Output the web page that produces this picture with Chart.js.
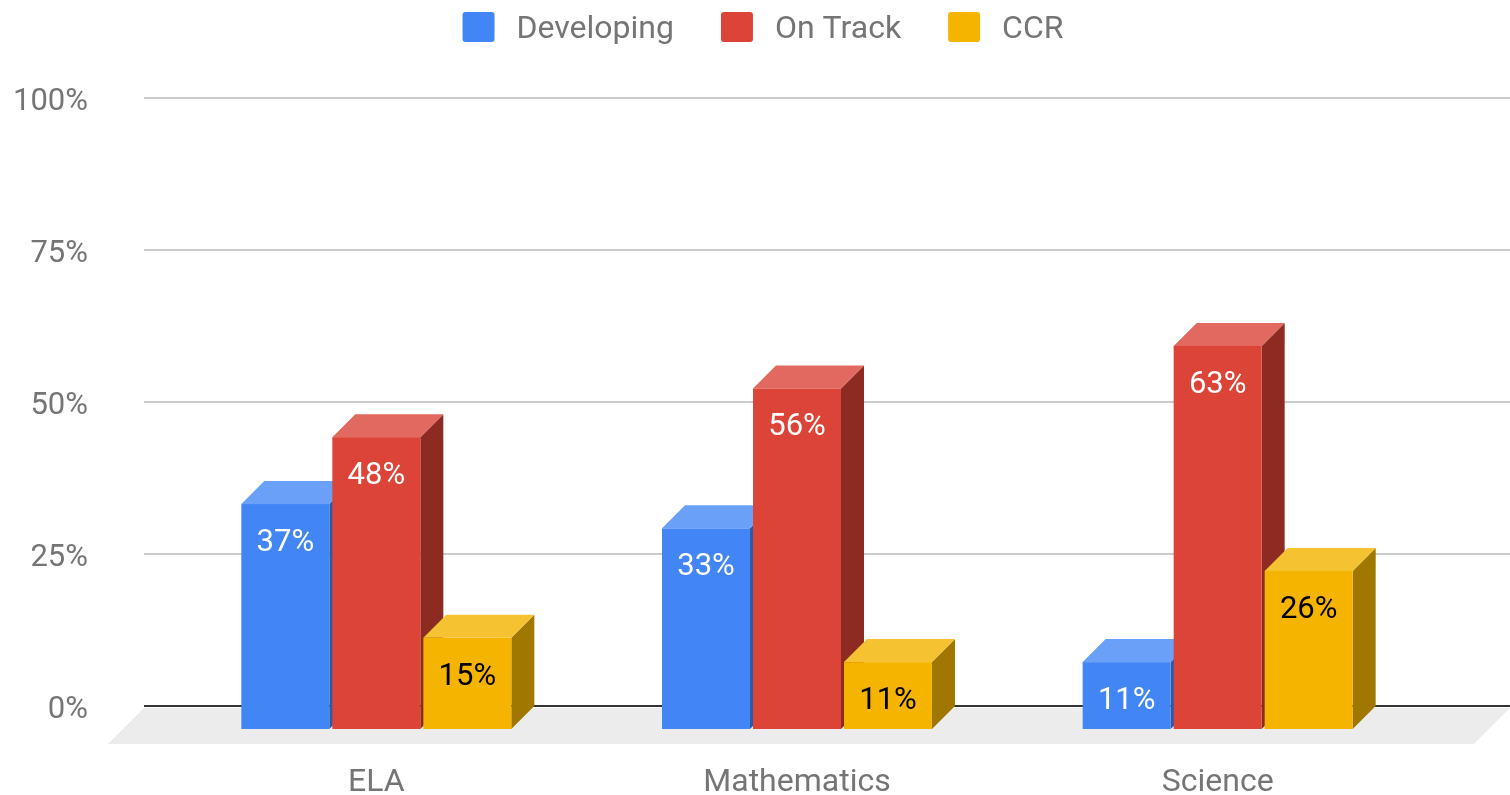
<!DOCTYPE html>
<html>
<head>
<meta charset="utf-8">
<script src="https://cdn.jsdelivr.net/npm/chart.js@4.4.1/dist/chart.umd.min.js"></script>
<style>
  html, body { margin: 0; padding: 0; background: #fff; }
  #wrap { width: 1510px; height: 795px; }
</style>
</head>
<body>
<div id="wrap"><canvas id="chart"></canvas></div>
<script>
const subjects = ["ELA", "Mathematics", "Science"];
const developing = [37, 33, 11];
const onTrack = [48, 56, 63];
const ccr = [15, 11, 26];
const yTicks = [0, 25, 50, 75, 100];

// colours: front face, top face, side face, value label
const frontColors = ["#4285F4", "#DB4437", "#F4B400"];
const topColors = ["#6AA0F7", "#E2695F", "#F5C232"];
const sideColors = ["#2B5AA8", "#8D2B23", "#A07800"];
const valueColors = ["#ffffff", "#ffffff", "#000000"];

const DEPTH = 23;   // how far the bars go back
const FLOOR = 36;   // depth of the grey floor

Chart.defaults.font.family = "Roboto";

const box3d = {
    id: "box3d",
    beforeDatasetsDraw(chart) {
        const { ctx, chartArea, scales: { y } } = chart;
        const x0 = chartArea.left - 22;
        const base = y.getPixelForValue(0);
        ctx.save();
        // floor
        ctx.fillStyle = "#ececec";
        ctx.beginPath();
        ctx.moveTo(x0, base + 2);
        ctx.lineTo(chart.width, base + 2);
        ctx.lineTo(chart.width - FLOOR, base + 2 + FLOOR);
        ctx.lineTo(x0 - FLOOR, base + 2 + FLOOR);
        ctx.closePath();
        ctx.fill();
        // gridlines on the back wall
        y.ticks.forEach((t) => {
            const py = y.getPixelForValue(t.value);
            ctx.strokeStyle = t.value === 0 ? "#333333" : "#cccccc";
            ctx.lineWidth = 2;
            ctx.beginPath();
            ctx.moveTo(x0, py);
            ctx.lineTo(chart.width, py);
            ctx.stroke();
        });
        ctx.restore();
    },
    beforeDatasetDraw() {
        return false; // bars are drawn as boxes below
    },
    afterDatasetsDraw(chart) {
        const ctx = chart.ctx;
        const sets = chart.data.datasets;
        ctx.save();
        subjects.forEach((s, i) => {
            sets.forEach((ds, d) => {
                const bar = chart.getDatasetMeta(d).data[i];
                const { x, y, base, width } = bar.getProps(["x", "y", "base", "width"], true);
                const l = x - width / 2;
                const r = x + width / 2;
                // side
                ctx.fillStyle = sideColors[d];
                ctx.beginPath();
                ctx.moveTo(r, y + DEPTH);
                ctx.lineTo(r + DEPTH, y);
                ctx.lineTo(r + DEPTH, base);
                ctx.lineTo(r, base + DEPTH);
                ctx.closePath();
                ctx.fill();
                // top
                ctx.fillStyle = topColors[d];
                ctx.beginPath();
                ctx.moveTo(l, y + DEPTH);
                ctx.lineTo(l + DEPTH, y);
                ctx.lineTo(r + DEPTH, y);
                ctx.lineTo(r, y + DEPTH);
                ctx.closePath();
                ctx.fill();
                // front
                ctx.fillStyle = frontColors[d];
                ctx.fillRect(l, y + DEPTH, width, base - y);
                // value
                ctx.fillStyle = valueColors[d];
                ctx.font = "31px Roboto";
                ctx.textAlign = "center";
                ctx.textBaseline = "middle";
                ctx.fillText(ds.data[i] + "%", x, y + DEPTH + 39);
            });
        });
        ctx.restore();
    },
    afterDraw(chart) {
        // legend
        const ctx = chart.ctx;
        const sets = chart.data.datasets;
        ctx.save();
        ctx.font = "32px Roboto";
        const widths = sets.map((ds) => ctx.measureText(ds.label).width);
        const total = widths.reduce((a, w) => a + 32 + 22 + w, 0) + 47 * (sets.length - 1);
        let lx = chart.width / 2 + 8 - total / 2;
        const ly = 27;
        sets.forEach((ds, i) => {
            ctx.fillStyle = frontColors[i];
            ctx.beginPath();
            ctx.roundRect(lx, ly - 15, 32, 30, 3);
            ctx.fill();
            ctx.fillStyle = "#757575";
            ctx.textAlign = "left";
            ctx.textBaseline = "middle";
            ctx.fillText(ds.label, lx + 54, ly + 3);
            lx += 54 + widths[i] + 47;
        });
        ctx.restore();
    },
};

new Chart(document.getElementById("chart"), {
    type: "bar",
    data: {
        labels: subjects,
        datasets: [
            { label: "Developing", data: developing, backgroundColor: frontColors[0] },
            { label: "On Track", data: onTrack, backgroundColor: frontColors[1] },
            { label: "CCR", data: ccr, backgroundColor: frontColors[2] },
        ],
    },
    options: {
        responsive: true,
        maintainAspectRatio: false,
        animation: false,
        layout: { padding: { top: 98, right: 82, bottom: 0, left: 0 } },
        datasets: {
            bar: { categoryPercentage: 0.649, barPercentage: 0.967 },
        },
        plugins: {
            legend: { display: false },
            tooltip: { enabled: false },
        },
        scales: {
            x: {
                grid: { display: false, drawTicks: false },
                border: { display: false },
                ticks: { color: "#757575", font: { size: 32 }, padding: 58 },
                afterFit(scale) { scale.height = 89; },
            },
            y: {
                min: 0,
                max: 100,
                grid: { display: false, drawTicks: false },
                border: { display: false },
                afterBuildTicks(scale) {
                    scale.ticks = yTicks.map((v) => ({ value: v }));
                },
                ticks: {
                    color: "#757575",
                    font: { size: 31 },
                    padding: 78,
                    labelOffset: 4,
                    callback: (v) => v + "%",
                },
                afterFit(scale) {
                    scale.width = 166;
                    scale.paddingTop = 0;
                    scale.paddingBottom = 0;
                },
            },
        },
    },
    plugins: [box3d],
});
</script>
</body>
</html>
